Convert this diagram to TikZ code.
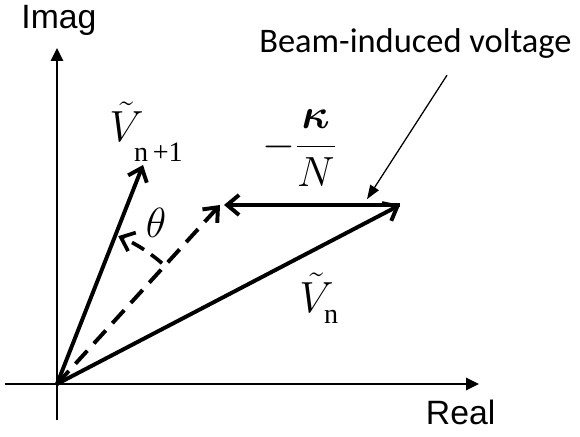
\RequirePackage{fix-cm}
\documentclass[tikz,border=0pt]{standalone}
\usepackage{amsmath}
\usepackage{fontspec}
\setmainfont{Liberation Serif}
\newfontfamily\axisfont{Liberation Sans}
\newfontfamily\notefont{Carlito}
\usetikzlibrary{arrows.meta}

\begin{document}
\begin{tikzpicture}[font=\fontsize{31}{36}\selectfont,axis/.style={-{Triangle[length=3.2mm,width=3mm]},draw=black,line width=1.4pt},vec/.style={-{Straight Barb[length=3mm,width=5mm]},draw=black,line width=2.8pt},dvec/.style={vec,dash pattern=on 12.5pt off 7pt},pointer/.style={-{Triangle[length=3.5mm,width=2.5mm]},draw=black,line width=0.9pt},sans/.style={font=\axisfont\fontsize{24}{28}\selectfont}]
\useasboundingbox (-1.425,-1.325) rectangle (13.075,9.6);
\coordinate (O) at (0,0);
\coordinate (xl) at (-1.3,0);
\coordinate (xr) at (10.55,0);
\coordinate (yb) at (0,-0.9);
\coordinate (yt) at (0,8.4);
\coordinate (Vnext) at (2.15,5.475);
\coordinate (Vn) at (8.575,4.475);
\coordinate (kick) at (4.175,4.475);
\coordinate (mid) at (4.075,4.475);
% axes
\draw[axis] (xl)--(xr);
\draw[axis] (yb)--(yt);
\node[sans,anchor=base] (imag) at (0.05,8.875) {Imag};
\node[sans,anchor=base] (real) at (10.09,-1.025) {Real};
% phasors
\draw[vec] (O)--(Vnext);
\draw[vec] (O)--(Vn);
\draw[vec] (Vn)--(kick);
\draw[dvec] (O)--(mid);
\draw[-{Straight Barb[length=3mm,width=5mm]},line width=2.6pt,dash pattern=on 10pt off 6pt] (49:4) arc (49:67.5:4);
% labels
\node (theta) at (2.475,4.025) {\fontsize{30}{34}\selectfont$\theta$};
\node[anchor=base west,inner sep=0pt] (lVnext) at (1.3,6.05) {$\tilde{V}_{\raisebox{-9pt}{\fontsize{20}{22}\selectfont n\,+1}}$};
\node[anchor=base west,inner sep=0pt] (lVn) at (6.05,1.775) {$\tilde{V}_{\raisebox{-3pt}{\fontsize{20}{22}\selectfont n}}$};
\node (lkick) at (6.06,5.9) {\fontsize{30}{34}\selectfont$-\dfrac{\boldsymbol{\kappa}}{N}$};
\node[font=\notefont\fontsize{24.5}{30}\selectfont] (beam) at (8.96,8.52) {Beam-induced voltage};
\coordinate (ptr) at (9.75,7.72);
\draw[pointer] (ptr)--(7.75,4.62);
\end{tikzpicture}
\end{document}
